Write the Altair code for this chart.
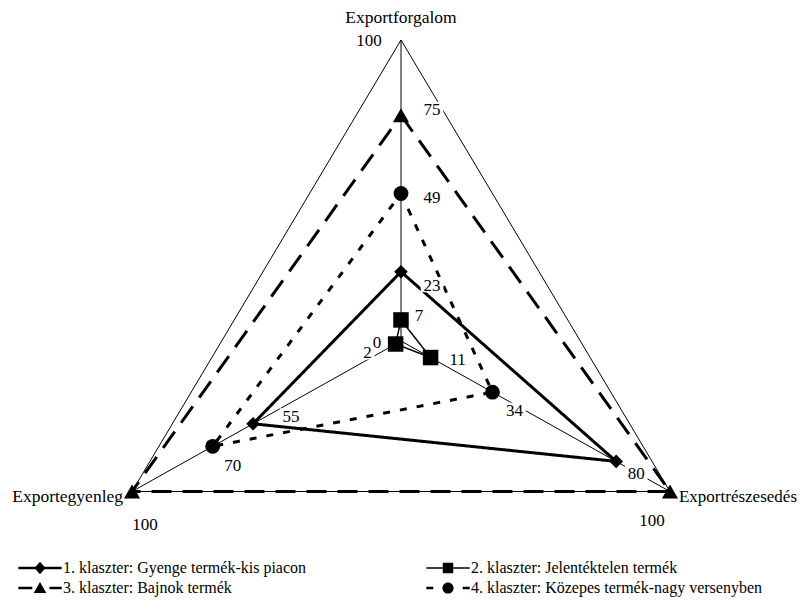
import numpy as np
import pandas as pd
import altair as alt

# ---------------- data ----------------
axis_names = ["Exportforgalom", "Exportrészesedés", "Exportegyenleg"]
axis_angles_deg = [0, 120, 240]
series_names = [
    "1. klaszter: Gyenge termék-kis piacon",
    "2. klaszter: Jelentéktelen termék",
    "3. klaszter: Bajnok termék",
    "4. klaszter: Közepes termék-nagy versenyben",
]
cluster_1 = [23, 80, 55]
cluster_2 = [7, 11, 2]
cluster_3 = [75, 100, 100]
cluster_4 = [49, 34, 70]
series_values = [cluster_1, cluster_2, cluster_3, cluster_4]
axis_max = 100
axis_tick_values = [0, 100]

# ---------------- layout / style ----------------
W, H = 792, 589
CX, CY = 393.0, 333.0          # radar centre inside plot area (px)
RX, RY = 310.6, 301.0          # px per unit radius (horizontal / vertical)
xmin, xmax = -CX / RX, (W - CX) / RX
ymax, ymin = CY / RY, -(H - CY) / RY

# data label offsets (px) per series / axis
label_offsets = [
    [(31, 13), (20, 12), (38, -8)],
    [(18, -5), (27, 1), (-28, 8)],
    [(31, -6), (-18, 28), (13, 32)],
    [(31, 3), (22, 18), (20, 19)],
]
tick_offsets = [(-24, 1), (-32, 0)]   # "0" at centre, "100" at top vertex

series_style = [
    dict(shape="diamond", size=185, width=3.0, dash=[1, 0]),
    dict(shape="square", size=240, width=1.5, dash=[1, 0]),
    dict(shape="triangle-up", size=260, width=3.0, dash=[20, 11]),
    dict(shape="circle", size=220, width=3.0, dash=[7, 10]),
]
# legend glyphs: line pieces drawn as thin filled bars plus the marker
legend_paths = [
    "M-3.1,-0.19H3.1V0.19H-3.1Z M0,-0.9L0.8,0L0,0.9L-0.8,0Z",
    "M-3.1,-0.1H3.1V0.1H-3.1Z M-0.75,-0.75H0.75V0.75H-0.75Z",
    "M-3.1,-0.19H-1.1V0.19H-3.1Z M0,-0.85L0.9,0.7H-0.9Z M1.35,-0.19H3.1V0.19H1.35Z",
    "M-3.1,-0.19H-2.1V0.19H-3.1Z M2.1,-0.19H3.1V0.19H2.1Z "
    "M0.8,0A0.8,0.8,0,1,1,-0.8,0A0.8,0.8,0,1,1,0.8,0Z",
]
legend_order = [0, 2, 1, 3]   # column-major fill -> rows (1,2) and (3,4)
FONT = "Liberation Serif"


def unit(angle_deg, v):
    a = np.deg2rad(angle_deg)
    return float(np.sin(a) * v / axis_max), float(np.cos(a) * v / axis_max)


XS = alt.Scale(domain=[xmin, xmax], nice=False, zero=False)
YS = alt.Scale(domain=[ymin, ymax], nice=False, zero=False)


def X(f="x"):
    return alt.X(f"{f}:Q", scale=XS, axis=None)


def Y(f="y"):
    return alt.Y(f"{f}:Q", scale=YS, axis=None)


layers = []

# outer frame (value = axis_max on every axis)
frame_rows = []
for i, ang in enumerate(axis_angles_deg + [axis_angles_deg[0]]):
    ux, uy = unit(ang, axis_max)
    frame_rows.append(dict(x=ux, y=uy, o=i))
layers.append(
    alt.Chart(pd.DataFrame(frame_rows)).mark_line(color="black", strokeWidth=1)
    .encode(x=X(), y=Y(), order="o:Q")
)

# spokes
spoke_rows = []
for ang in axis_angles_deg:
    ux, uy = unit(ang, axis_max)
    spoke_rows.append(dict(x=0.0, y=0.0, x2=ux, y2=uy))
layers.append(
    alt.Chart(pd.DataFrame(spoke_rows)).mark_rule(color="black", strokeWidth=1)
    .encode(x=X(), y=Y(), x2="x2:Q", y2="y2:Q")
)

# series polygons and markers
label_rows = []
for s, (name, vals, st) in enumerate(zip(series_names, series_values, series_style)):
    rows = []
    for i, (ang, v) in enumerate(zip(axis_angles_deg, vals)):
        ux, uy = unit(ang, v)
        rows.append(dict(x=ux, y=uy, o=i, v=v))
        dx, dy = label_offsets[s][i]
        label_rows.append(dict(t=str(v), x=ux + dx / RX, y=uy - dy / RY))
    poly = rows + [dict(rows[0], o=len(rows))]
    layers.append(
        alt.Chart(pd.DataFrame(poly)).mark_line(
            color="black", strokeWidth=st["width"], strokeDash=st["dash"]
        ).encode(x=X(), y=Y(), order="o:Q")
    )
    layers.append(
        alt.Chart(pd.DataFrame(rows)).mark_point(
            shape=st["shape"], size=st["size"], filled=True, color="black", opacity=1
        ).encode(x=X(), y=Y())
    )

# axis tick labels (0 at centre, 100 at first spoke)
for tv, (dx, dy) in zip(axis_tick_values, tick_offsets):
    ux, uy = unit(axis_angles_deg[0], tv)
    label_rows.append(dict(t=str(tv), x=ux + dx / RX, y=uy - dy / RY))

lab = pd.DataFrame(label_rows)
lab["x1"] = lab["x"] - (lab["t"].str.len() * 4.4 + 2.5) / RX
lab["x2"] = lab["x"] + (lab["t"].str.len() * 4.4 + 2.5) / RX
lab["y1"] = lab["y"] - 7.5 / RY
lab["y2"] = lab["y"] + 7.5 / RY

layers.append(
    alt.Chart(lab).mark_rect(color="white", strokeWidth=0)
    .encode(x=X("x1"), x2="x2:Q", y=Y("y1"), y2="y2:Q")
)
layers.append(
    alt.Chart(lab).mark_text(font=FONT, fontSize=17, color="black",
                             align="center", baseline="alphabetic", dy=6)
    .encode(x=X(), y=Y(), text="t:N")
)

# axis (category) names
name_specs = [("center", 0, -17, 17.5), ("left", 9, 10, 17), ("right", -9, 10, 17.5)]
for nm, ang, (al, dx, dy, fs) in zip(axis_names, axis_angles_deg, name_specs):
    ux, uy = unit(ang, axis_max)
    df = pd.DataFrame([dict(t=nm, x=ux + dx / RX, y=uy - dy / RY)])
    layers.append(
        alt.Chart(df).mark_text(font=FONT, fontSize=fs, color="black",
                                align=al, baseline="alphabetic")
        .encode(x=X(), y=Y(), text="t:N")
    )

# legend (invisible carrier layer)
leg_domain = [series_names[k] for k in legend_order]
leg_range = [legend_paths[k] for k in legend_order]
leg_df = pd.DataFrame(dict(series=series_names, x=[0.0] * 4, y=[0.0] * 4))
layers.append(
    alt.Chart(leg_df).mark_point(filled=True, color="black", opacity=0)
    .encode(
        x=X(), y=Y(),
        shape=alt.Shape(
            "series:N",
            scale=alt.Scale(domain=leg_domain, range=leg_range),
            legend=alt.Legend(
                title=None, orient="none", legendX=24, legendY=552,
                columns=2, columnPadding=119, rowPadding=4,
                symbolSize=196, symbolStrokeWidth=0,
                symbolFillColor="black",
                symbolOpacity=1, labelFont=FONT, labelFontSize=16,
                labelColor="black", labelOffset=15, labelLimit=500,
                padding=0,
            ),
        ),
    )
)

chart = alt.layer(*layers).properties(
    width=W, height=H,
    autosize=alt.AutoSizeParams(type="none"),
    padding=0,
).configure_view(stroke=None)

chart.save("out.html", embed_options={"renderer": "svg", "actions": False})
